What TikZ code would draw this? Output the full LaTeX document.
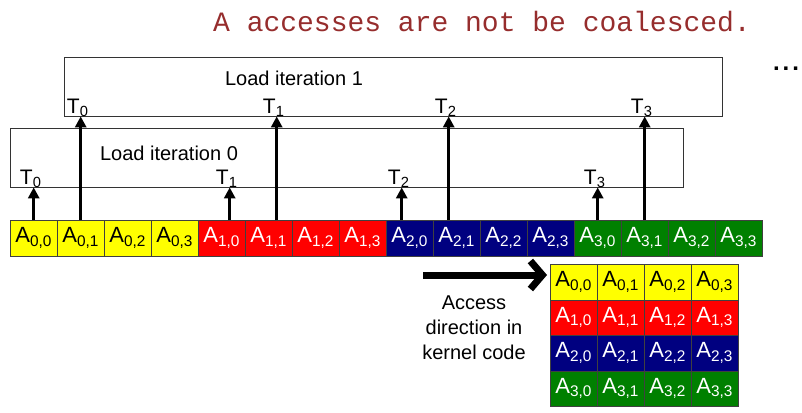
\documentclass[tikz,border=0pt]{standalone}
\usepackage{fontspec}
\setmainfont{Liberation Sans}
\setmonofont{Liberation Mono}
\usetikzlibrary{positioning,arrows.meta,calc}
\definecolor{cellyellow}{RGB}{255,255,0}
\definecolor{cellred}{RGB}{255,0,0}
\definecolor{cellnavy}{RGB}{0,0,128}
\definecolor{cellgreen}{RGB}{0,128,0}
\definecolor{titlered}{RGB}{150,45,45}
\tikzset{
  cell/.style={draw=black!75,minimum width=47pt,minimum height=35.5pt,
              inner sep=0pt,anchor=north west,font=\fontsize{22}{24}\selectfont},
  row0/.style={cell,fill=cellyellow,text=black},
  row1/.style={cell,fill=cellred,text=white},
  row2/.style={cell,fill=cellnavy,text=white},
  row3/.style={cell,fill=cellgreen,text=white},
  iterbox/.style={draw=black!80,inner sep=0pt,anchor=north west},
  iterlabel/.style={font=\fontsize{20}{22}\selectfont},
  tlabel/.style={anchor=base,yshift=3pt,xshift=-3pt,inner sep=0pt,
                font=\fontsize{21}{22}\selectfont},
  load/.style={-{Triangle[width=11pt,length=11pt]},line width=3.5pt},
  access/.style={-{Straight Barb[length=12pt,width=28pt]},line width=7pt},
}
\newcommand{\elem}[2]{A\textsubscript{#1,#2}}

\begin{document}
\begin{tikzpicture}[x=1pt,y=-1pt]
  \useasboundingbox (0,0) rectangle (802,412);
  \node[font=\ttfamily\fontsize{28}{30}\selectfont,text=titlered] (title) at (482,22)
    {A accesses are not be coalesced.};
  \node[font=\bfseries\fontsize{24}{26}\selectfont] (more) at (786,69) {.\kern3pt.\kern3pt.};

  % iteration boxes
  \node[iterbox,minimum width=658pt,minimum height=59pt] (iter1) at (64,57) {};
  \node[iterlabel] (lab1) at (294,78) {Load iteration 1};
  \node[iterbox,minimum width=673pt,minimum height=59pt] (iter0) at (10,128) {};
  \node[iterlabel] (lab0) at (169,153) {Load iteration 0};

  % linear layout in memory
  \foreach \r in {0,...,3}
    \foreach \c in {0,...,3}
      \node[row\r] (s\r\c) at ({10+47*(4*\r+\c)},220) {\elem{\r}{\c}};

  % 2D layout
  \foreach \r in {0,...,3}
    \foreach \c in {0,...,3}
      \node[row\r] (g\r\c) at ({550+47*\c},{264+35.5*\r}) {\elem{\r}{\c}};

  % thread accesses
  \foreach \r/\dx in {0/0,1/8,2/-8,3/0}{
    \draw[load] ([xshift=\dx pt]s\r0.north) -- ([xshift=\dx pt]s\r0.north |- iter0.south)
      node[tlabel] {T\textsubscript{\r}};
    \draw[load] ([xshift=\dx pt]s\r1.north) -- ([xshift=\dx pt]s\r1.north |- iter1.south)
      node[tlabel] {T\textsubscript{\r}};
  }

  \coordinate (accstart) at (423,275);
  \draw[access] (accstart) -- ([xshift=-3pt]accstart -| g00.west);
  \node[align=center,font=\fontsize{20}{25}\selectfont] (acctext) at (474,328)
    {Access\\direction in\\kernel code};
\end{tikzpicture}
\end{document}
